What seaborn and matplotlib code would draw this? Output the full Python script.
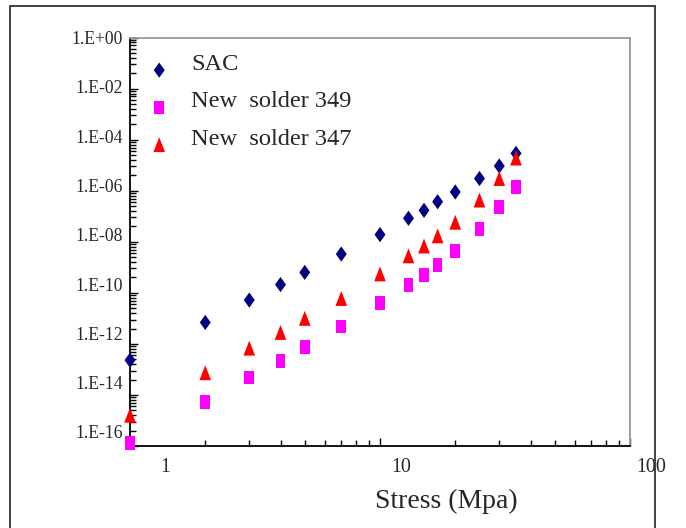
import numpy as np
import pandas as pd
import matplotlib
matplotlib.use("Agg")
import matplotlib.pyplot as plt
import matplotlib.transforms as mtransforms
from matplotlib.markers import MarkerStyle
from matplotlib.patches import Rectangle
import seaborn as sns

# stress (MPa) and creep rate
stress = [1, 2, 3, 4, 5, 7, 10, 13, 15, 17, 20, 25, 30, 35]
sac = [2.3e-13, 6.9e-12, 5.2e-11, 2.1e-10, 6.3e-10, 3.3e-9, 1.9e-8,
       8.3e-8, 1.7e-7, 3.7e-7, 8.9e-7, 3.0e-6, 9.3e-6, 2.9e-5]
solder_349 = [1.3e-16, 5.4e-15, 4.9e-14, 2.1e-13, 7.4e-13, 4.7e-12, 3.9e-11,
              2.0e-10, 5.0e-10, 1.2e-9, 4.4e-9, 3.2e-8, 2.3e-7, 1.4e-6]
solder_347 = [1.6e-15, 7.4e-14, 6.8e-13, 2.8e-12, 1.0e-11, 6.0e-11, 5.5e-10,
              2.8e-9, 6.8e-9, 1.7e-8, 5.8e-8, 4.3e-7, 3.0e-6, 1.9e-5]

series_names = ["SAC", "New  solder 349", "New  solder 347"]
series_colors = ["#000080", "#FF00FF", "#FF0000"]

ytick_vals = [10.0 ** (-2 * k) for k in range(9)]
ytick_labels = ["1.E+00", "1.E-02", "1.E-04", "1.E-06", "1.E-08",
                "1.E-10", "1.E-12", "1.E-14", "1.E-16"]
xtick_vals = [1, 10, 100]
xtick_labels = ["1", "10", "100"]

df = pd.DataFrame({"stress": stress, "SAC": sac,
                   "New  solder 349": solder_349, "New  solder 347": solder_347})

sns.set_theme(style="white")
plt.rcParams["font.family"] = ["Liberation Serif", "DejaVu Serif"]

fig = plt.figure(figsize=(6.86, 5.28), dpi=100)
ax = fig.add_axes([130 / 686, 1 - 446 / 528, 500 / 686, 408.5 / 528])

# tall markers (the original picture is stretched vertically)
diamond = MarkerStyle(np.array([[0, 1], [0.72, 0], [0, -1], [-0.72, 0], [0, 1]]))
square = MarkerStyle(np.array([[-0.71, -1], [0.71, -1], [0.71, 1], [-0.71, 1], [-0.71, -1]]))
triangle = MarkerStyle(np.array([[-0.78, -1], [0.78, -1], [0, 1], [-0.78, -1]]))
markers = [diamond, square, triangle]
sizes = [120, 95, 115]

for name, col, mk, sz in zip(series_names, series_colors, markers, sizes):
    sns.scatterplot(data=df, x="stress", y=name, ax=ax, color=col, marker=mk,
                    s=sz, linewidth=0, edgecolor="none", label=name,
                    clip_on=False, zorder=3)

ax.set_xscale("log")
ax.set_yscale("log")
ax.set_xlim(1, 100)
ax.set_ylim(1e-16, 1)

ax.set_yticks(ytick_vals)
ax.set_yticklabels(ytick_labels)
ax.set_yticks([s * 10.0 ** (-2 * k) for k in range(1, 9)
               for s in [4, 9, 16, 25, 36, 49, 64, 81]], minor=True)
ax.set_xticks(xtick_vals)
ax.set_xticklabels(xtick_labels)
ax.set_xticks([m * d for d in [1, 10] for m in range(2, 10)], minor=True)
ax.yaxis.set_minor_formatter(plt.NullFormatter())
ax.xaxis.set_minor_formatter(plt.NullFormatter())

ax.tick_params(axis="both", which="both", direction="in", color="black",
               width=1, left=True, bottom=True)
ax.tick_params(axis="both", which="major", length=5.5)
ax.tick_params(axis="both", which="minor", length=4)
ax.tick_params(axis="y", which="major", labelsize=12.7, pad=5)
ax.tick_params(axis="x", which="major", labelsize=14.4, pad=8.5)

# the labels of the original sit a little off their ticks
for k, lab in enumerate(ax.get_yticklabels()):
    lab.set_transform(lab.get_transform() +
                      mtransforms.ScaledTranslation(0, 1.76 * k / 100, fig.dpi_scale_trans))
for dx, lab in zip([35, 21, 21], ax.get_xticklabels()):
    lab.set_transform(lab.get_transform() +
                      mtransforms.ScaledTranslation(dx / 100, 0, fig.dpi_scale_trans))

ax.set_xlabel("Stress (Mpa)", fontsize=20)
ax.set_ylabel("")
ax.xaxis.set_label_coords((446 - 130) / 500, (446 - 501) / 408.5)
ax.xaxis.label.set_va("center")

for side in ["left", "bottom"]:
    ax.spines[side].set_color("black")
    ax.spines[side].set_linewidth(1.3)
for side in ["top", "right"]:
    ax.spines[side].set_color("#9a9a9a")
    ax.spines[side].set_linewidth(1.3)
ax.grid(False)

ax.legend(loc="upper left", bbox_to_anchor=(0.034, 0.962), frameon=False,
          fontsize=17.6, handlelength=1.0, handletextpad=0.8, labelspacing=0.62,
          borderpad=0, borderaxespad=0, scatteryoffsets=[0.0])

# outer frame of the original figure
fig.patches.append(Rectangle((10 / 686, -0.05), 645 / 686, 1.05 - 6 / 528,
                             transform=fig.transFigure, fill=False,
                             edgecolor="#333333", linewidth=1.3))

plt.savefig("out.png", dpi=100)
